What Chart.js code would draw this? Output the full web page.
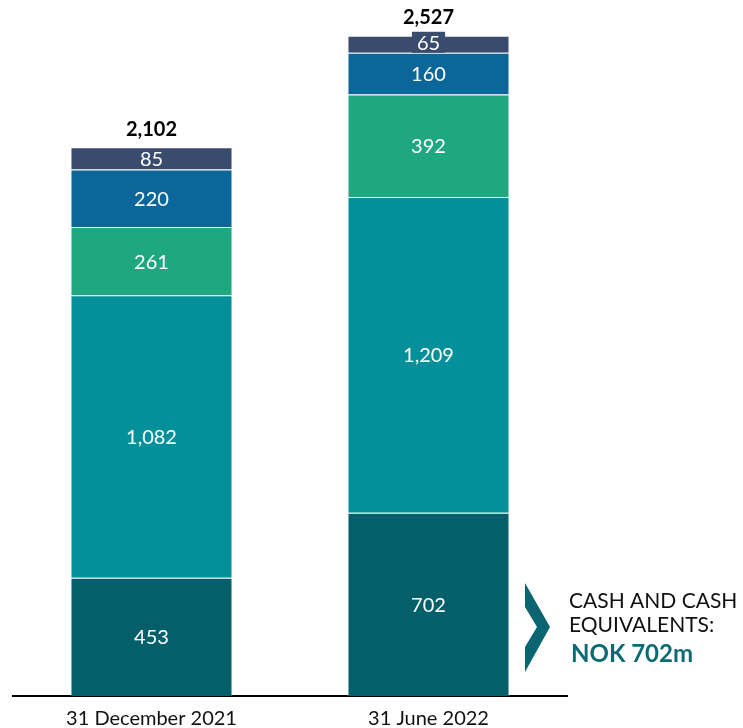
<html>
<head>
<script src="https://cdn.jsdelivr.net/npm/chart.js@4.4.0/dist/chart.umd.min.js"></script>
<style>
  body { margin: 0; background: #ffffff; }
  canvas { display: block; }
</style>
</head>
<body>
<canvas id="cashChart" width="743" height="728"></canvas>

<script>
  // categories (x axis)
  var periods = ["31 December 2021", "31 June 2022"];

  // stacked segments, bottom to top
  var cashEquivalents = [453, 702];
  var segmentTwo = [1082, 1209];
  var segmentThree = [261, 392];
  var segmentFour = [220, 160];
  var segmentFive = [85, 65];

  // totals as printed above the bars (rounded in the source)
  var totals = [2102, 2527];

  var segmentColors = ["#03606b", "#04909a", "#1fa77f", "#0b6799", "#394c6d"];

  // annotation text
  var noteLines = ["CASH AND CASH", "EQUIVALENTS:"];
  var noteValue = "NOK 702m";

  var fontName = "Lato, 'Open Sans', sans-serif";

  function fmt(v) {
    return v.toLocaleString("en-US");
  }

  // white numbers inside each segment, plus bold totals above the bars
  var segmentLabels = {
    id: "segmentLabels",
    afterDatasetsDraw: function(chart) {
      var ctx = chart.ctx;
      ctx.save();
      ctx.textAlign = "center";
      ctx.textBaseline = "middle";
      chart.data.datasets.forEach(function(ds, di) {
        var meta = chart.getDatasetMeta(di);
        meta.data.forEach(function(bar, i) {
          var val = ds.data[i];
          var top = bar.y, base = bar.base;
          var h = base - top;
          var cy = (top + base) / 2 + 1;
          ctx.font = "20px " + fontName;
          var txt = fmt(val);
          if (h < 22) {
            var w = ctx.measureText(txt).width + 10;
            ctx.fillStyle = ds.backgroundColor;
            ctx.fillRect(bar.x - w / 2, base - 21, w, 21);
            cy = base - 9.5;
          }
          ctx.fillStyle = "#ffffff";
          ctx.fillText(txt, bar.x, cy);
        });
      });

      // totals
      var lastMeta = chart.getDatasetMeta(chart.data.datasets.length - 1);
      totals.forEach(function(total, i) {
        var bar = lastMeta.data[i];
        ctx.font = "bold 20px " + fontName;
        ctx.fillStyle = "#000000";
        ctx.fillText(fmt(total), bar.x, bar.y - 18);
      });
      ctx.restore();
    }
  };

  // chevron and note on the right
  var cashNote = {
    id: "cashNote",
    afterDraw: function(chart) {
      var ctx = chart.ctx;
      var area = chart.chartArea;
      var left = area.right - 42;
      var mid = area.bottom - 69;
      ctx.save();
      ctx.fillStyle = "#0a6570";
      ctx.beginPath();
      ctx.moveTo(left, mid - 44);
      ctx.lineTo(left + 25, mid);
      ctx.lineTo(left, mid + 45);
      ctx.lineTo(left, mid + 20);
      ctx.lineTo(left + 12, mid);
      ctx.lineTo(left, mid - 20);
      ctx.closePath();
      ctx.fill();

      ctx.textAlign = "left";
      ctx.textBaseline = "middle";
      ctx.fillStyle = "#111111";
      ctx.font = "21px " + fontName;
      ctx.fillText(noteLines[0], left + 44, mid - 26);
      ctx.fillText(noteLines[1], left + 44, mid - 2);
      ctx.fillStyle = "#0b6b74";
      ctx.font = "bold 24px " + fontName;
      ctx.fillText(noteValue, left + 46, mid + 27);
      ctx.restore();
    }
  };

  var datasets = [
    { label: "Cash and cash equivalents", data: cashEquivalents },
    { label: "Segment 2", data: segmentTwo },
    { label: "Segment 3", data: segmentThree },
    { label: "Segment 4", data: segmentFour },
    { label: "Segment 5", data: segmentFive }
  ].map(function(d, k) {
    d.backgroundColor = segmentColors[k];
    d.borderColor = "rgba(255,255,255,0.45)";
    d.borderWidth = 1;
    d.barPercentage = 0.585;
    d.categoryPercentage = 1;
    return d;
  });

  var cashChart = new Chart(document.getElementById("cashChart"), {
    type: "bar",
    data: {
      labels: periods,
      datasets: datasets
    },
    options: {
      responsive: false,
      animation: false,
      layout: {
        padding: { top: 17, right: 176, left: 13, bottom: -14 }
      },
      plugins: {
        legend: { display: false },
        tooltip: { enabled: false }
      },
      scales: {
        x: {
          stacked: true,
          grid: { display: false, drawTicks: false },
          border: { display: true, color: "#000000", width: 2 },
          ticks: {
            color: "#111111",
            padding: 13,
            font: { family: fontName, size: 20, lineHeight: 1 }
          }
        },
        y: {
          stacked: true,
          display: false,
          min: 0,
          max: 2600
        }
      }
    },
    plugins: [segmentLabels, cashNote]
  });
</script>
</body>
</html>
